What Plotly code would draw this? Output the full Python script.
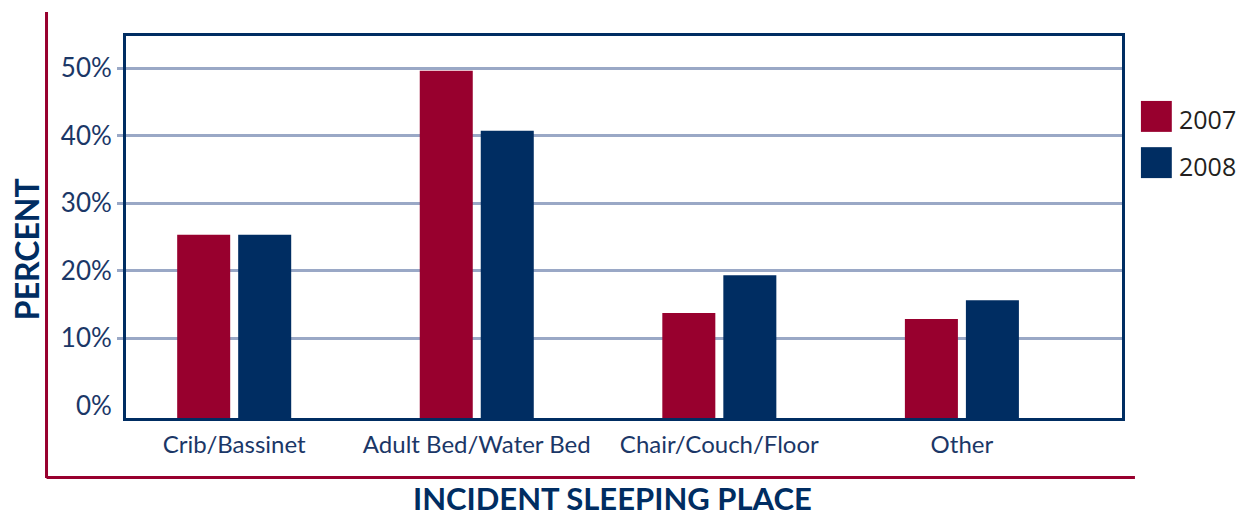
# Incident sleeping place, 2007 vs 2008 (grouped bars)

import plotly.graph_objects as go

CATEGORIES = ["Crib/Bassinet", "Adult Bed/Water Bed", "Chair/Couch/Floor", "Other"]
YEARS = ["2007", "2008"]
VALUES_2007 = [25.3, 49.6, 13.7, 12.8]
VALUES_2008 = [25.3, 40.7, 19.3, 15.6]
Y_TICKS = [0, 10, 20, 30, 40, 50]
Y_FLOOR = -1.85   # the original's frame sits a little below 0%, bars start at the frame
Y_TOP = 54.74

CRIMSON = "#98002e"
NAVY = "#002d62"
GRID = "#9aa8c6"
TEXT = "#1b3767"

fig = go.Figure()
for name, vals, col in [(YEARS[0], VALUES_2007, CRIMSON), (YEARS[1], VALUES_2008, NAVY)]:
    fig.add_trace(go.Bar(
        x=CATEGORIES, y=[v - Y_FLOOR for v in vals], base=Y_FLOOR, name=name,
        customdata=vals, hovertemplate="%{x}: %{customdata}%<extra>" + name + "</extra>",
        marker=dict(color=col, line=dict(width=0)),
    ))

# page has 8px body margin, so the figure is 8px smaller and everything shifted by 8
# plot area sits at 126..1122 x 36..418 on the page
shapes = [
    dict(type="line", xref="paper", yref="paper", x0=-0.0798, x1=-0.0798, y0=1.063, y1=-0.157,
         line=dict(color=CRIMSON, width=3)),
    dict(type="line", xref="paper", yref="paper", x0=-0.0798, x1=1.013, y0=-0.1558, y1=-0.1558,
         line=dict(color=CRIMSON, width=3)),
]
annotations = [
    dict(text="<b>INCIDENT SLEEPING PLACE</b>", xref="paper", yref="paper", x=0.488, y=-0.2094,
         showarrow=False, xanchor="center", yanchor="middle",
         font=dict(family="Lato", size=31, color=NAVY)),
    dict(text="<b>PERCENT</b>", xref="paper", yref="paper", x=-0.1004, y=0.442, textangle=-90,
         showarrow=False, xanchor="center", yanchor="middle",
         font=dict(family="Lato", size=32, color=NAVY)),
]

# hand-drawn legend with big swatches
legend_rows = [(0.830, 0.749, 0.783), (0.709, 0.628, 0.660)]
for (top, bot, mid), name, col in zip(legend_rows, YEARS, [CRIMSON, NAVY]):
    shapes.append(dict(type="rect", xref="paper", yref="paper", x0=1.019, x1=1.050, y0=bot, y1=top,
                       fillcolor=col, line=dict(width=0)))
    annotations.append(dict(text=name, xref="paper", yref="paper", x=1.055, y=mid, showarrow=False,
                            xanchor="left", yanchor="middle",
                            font=dict(family="Open Sans", size=25, color="#231f20")))

fig.update_layout(
    width=1237,
    height=508,
    barmode="group",
    bargap=0.497,
    bargroupgap=0.131,
    showlegend=False,
    plot_bgcolor="white",
    paper_bgcolor="white",
    margin=dict(l=118, r=123, t=28, b=98),
    shapes=shapes,
    annotations=annotations,
    xaxis=dict(
        range=[-0.446, 3.66],
        showgrid=False,
        showline=True, mirror=True, linecolor=NAVY, linewidth=3,
        ticks="",
        ticklabelstandoff=3,
        tickfont=dict(family="Lato", size=24, color=TEXT),
    ),
    yaxis=dict(
        range=[Y_FLOOR, Y_TOP],
        tickvals=Y_TICKS,
        ticktext=[f"{v}%" for v in Y_TICKS],
        showgrid=False,
        zeroline=False,
        showline=True, mirror=True, linecolor=NAVY, linewidth=3,
        ticks="",
        ticklabelstandoff=6,
        tickfont=dict(family="Lato", size=26, color=TEXT),
        minor=dict(
            tickvals=Y_TICKS[1:],
            showgrid=True, gridcolor=GRID, gridwidth=3,
            ticks="outside", ticklen=6, tickwidth=3, tickcolor=GRID,
        ),
    ),
)

fig.write_html("out.html")
